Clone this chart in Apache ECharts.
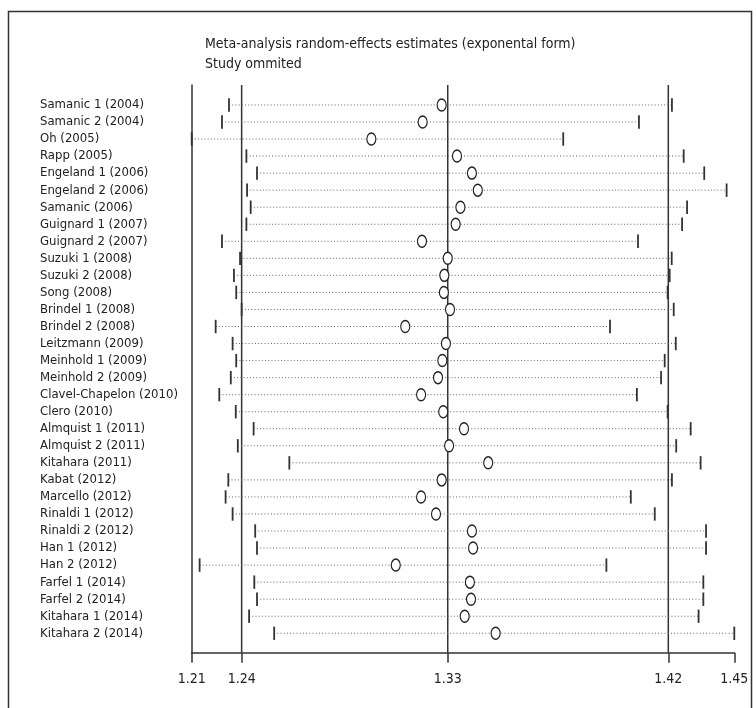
<!DOCTYPE html>
<html>
<head>
<meta charset="utf-8">
<title>Meta-analysis influence</title>
<script src="https://cdn.jsdelivr.net/npm/echarts@6/dist/echarts.min.js"></script>
<style>
  html, body { margin: 0; padding: 0; background: #fff; }
  #chart { width: 756px; height: 708px; }
</style>
</head>
<body>
<div id="chart"></div>
<script>
// study omitted -> pooled estimate with its CI
var studies = [
  'Samanic 1 (2004)', 'Samanic 2 (2004)', 'Oh (2005)', 'Rapp (2005)',
  'Engeland 1 (2006)', 'Engeland 2 (2006)', 'Samanic (2006)', 'Guignard 1 (2007)',
  'Guignard 2 (2007)', 'Suzuki 1 (2008)', 'Suzuki 2 (2008)', 'Song (2008)',
  'Brindel 1 (2008)', 'Brindel 2 (2008)', 'Leitzmann (2009)', 'Meinhold 1 (2009)',
  'Meinhold 2 (2009)', 'Clavel-Chapelon (2010)', 'Clero (2010)', 'Almquist 1 (2011)',
  'Almquist 2 (2011)', 'Kitahara (2011)', 'Kabat (2012)', 'Marcello (2012)',
  'Rinaldi 1 (2012)', 'Rinaldi 2 (2012)', 'Han 1 (2012)', 'Han 2 (2012)',
  'Farfel 1 (2014)', 'Farfel 2 (2014)', 'Kitahara 1 (2014)', 'Kitahara 2 (2014)'
]
var estimate = [
  1.3241, 1.3157, 1.2930, 1.3309, 1.3375, 1.3401, 1.3324, 1.3303,
  1.3154, 1.3268, 1.3253, 1.3251, 1.3278, 1.3080, 1.3260, 1.3244,
  1.3225, 1.3150, 1.3248, 1.3340, 1.3274, 1.3447, 1.3241, 1.3150,
  1.3216, 1.3375, 1.3380, 1.3038, 1.3366, 1.3371, 1.3343, 1.3480
]
var lower = [
  1.2300, 1.2269, 1.2135, 1.2377, 1.2424, 1.2380, 1.2396, 1.2377,
  1.2269, 1.2349, 1.2322, 1.2332, 1.2356, 1.2241, 1.2316, 1.2332,
  1.2308, 1.2257, 1.2330, 1.2409, 1.2339, 1.2567, 1.2297, 1.2285,
  1.2316, 1.2416, 1.2424, 1.2170, 1.2412, 1.2424, 1.2389, 1.2500
]
var upper = [
  1.4260, 1.4114, 1.3779, 1.4312, 1.4403, 1.4502, 1.4327, 1.4305,
  1.4110, 1.4259, 1.4250, 1.4241, 1.4268, 1.3986, 1.4277, 1.4228,
  1.4212, 1.4105, 1.4241, 1.4343, 1.4279, 1.4387, 1.4260, 1.4078,
  1.4184, 1.4411, 1.4411, 1.3970, 1.4399, 1.4399, 1.4378, 1.4536
]
// min, pooled lower CI, pooled estimate, pooled upper CI, max
var tickValues = [1.2135, 1.2356, 1.3268, 1.4244, 1.4536]
var tickLabels = ['1.21', '1.24', '1.33', '1.42', '1.45']

var font = '"Liberation Sans Narrow", "Arial Narrow", "DejaVu Sans Condensed", sans-serif'
var dark = '#333'

var rows = studies.map(function (s, i) { return i })

var chart = echarts.init(document.getElementById('chart'))
chart.setOption({
  animation: false,
  backgroundColor: '#fff',
  textStyle: { fontFamily: font },
  title: {
    text: 'Meta-analysis random-effects estimates (exponental form)\nStudy ommited',
    left: 200,
    top: 29,
    textStyle: {
      fontFamily: font,
      fontSize: 14,
      fontWeight: 'normal',
      lineHeight: 20,
      color: '#222'
    }
  },
  graphic: [{
    type: 'rect',
    shape: { x: 8.5, y: 11.5, width: 743, height: 720 },
    style: { fill: null, stroke: dark, lineWidth: 1.5 },
    silent: true
  }],
  grid: { left: 191.7, right: 21.7, top: 85, bottom: 55.3 },
  xAxis: {
    type: 'value',
    position: 'bottom',
    min: tickValues[0],
    max: tickValues[tickValues.length - 1],
    splitLine: { show: false },
    axisLine: { onZero: false, lineStyle: { color: dark, width: 1.5 } },
    axisTick: {
      customValues: tickValues,
      length: 10,
      lineStyle: { color: dark, width: 1.5 }
    },
    axisLabel: {
      customValues: tickValues,
      margin: 20,
      fontSize: 14,
      color: '#222',
      formatter: function (v) {
        var i = tickValues.indexOf(v)
        return i >= 0 ? tickLabels[i] : ''
      }
    }
  },
  yAxis: {
    type: 'value',
    inverse: true,
    min: -1.17,
    max: 32.14,
    splitLine: { show: false },
    axisTick: { show: false },
    axisLine: { show: true, onZero: false, lineStyle: { color: dark, width: 1.5 } },
    axisLabel: {
      customValues: rows,
      align: 'left',
      margin: 151.7,
      fontSize: 13,
      color: '#222',
      formatter: function (v) { return studies[v] || '' }
    }
  },
  series: [{
    // reference lines at pooled lower CI, estimate, upper CI
    type: 'custom',
    silent: true,
    data: tickValues.slice(1, 4).map(function (v) { return [v] }),
    encode: { x: 0 },
    renderItem: function (params, api) {
      var cs = params.coordSys
      var x = api.coord([api.value(0), 0])[0]
      return {
        type: 'line',
        shape: { x1: x, y1: cs.y, x2: x, y2: cs.y + cs.height },
        style: { stroke: dark, lineWidth: 1.5 }
      }
    }
  }, {
    type: 'custom',
    silent: true,
    data: rows.map(function (i) { return [lower[i], upper[i], i] }),
    encode: { x: [0, 1], y: 2 },
    renderItem: function (params, api) {
      var a = api.coord([api.value(0), api.value(2)])
      var b = api.coord([api.value(1), api.value(2)])
      var h = 6.7
      return {
        type: 'group',
        children: [{
          type: 'line',
          shape: { x1: a[0], y1: a[1], x2: b[0], y2: b[1] },
          style: { stroke: '#666', lineWidth: 1, lineDash: [1, 2.2] }
        }, {
          type: 'line',
          shape: { x1: a[0], y1: a[1] - h, x2: a[0], y2: a[1] + h },
          style: { stroke: dark, lineWidth: 1.8 }
        }, {
          type: 'line',
          shape: { x1: b[0], y1: b[1] - h, x2: b[0], y2: b[1] + h },
          style: { stroke: dark, lineWidth: 1.8 }
        }]
      }
    }
  }, {
    type: 'scatter',
    silent: true,
    data: rows.map(function (i) { return [estimate[i], i] }),
    symbol: 'path://M0,6 A4.5,6 0 1,1 9,6 A4.5,6 0 1,1 0,6 Z',
    symbolSize: [9, 12],
    itemStyle: { color: '#fff', borderColor: '#222', borderWidth: 1.3, opacity: 1 },
    z: 3
  }]
})
</script>
</body>
</html>
